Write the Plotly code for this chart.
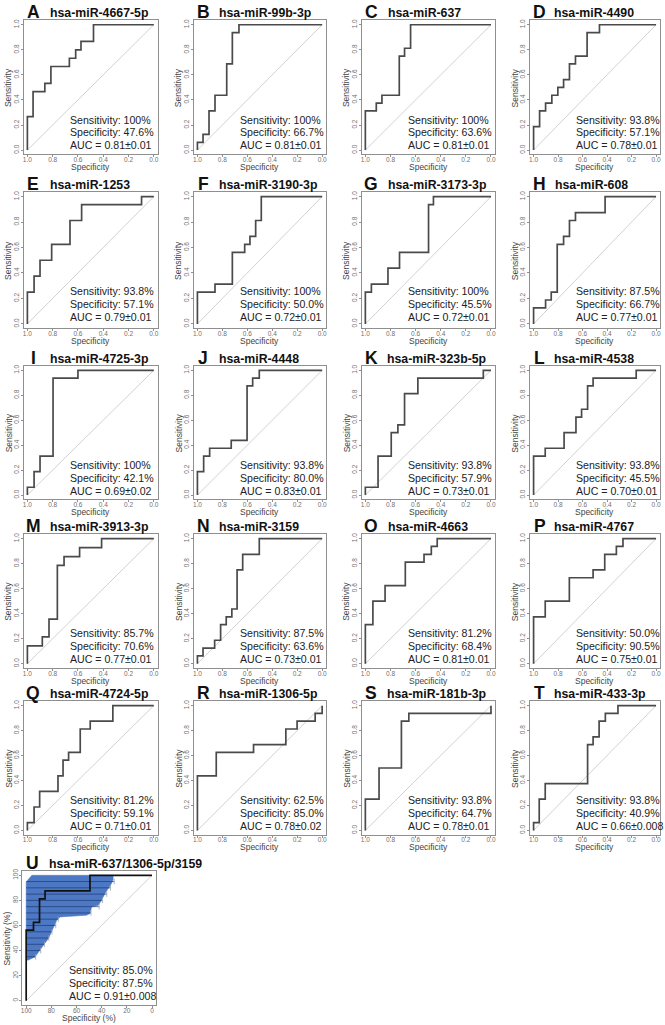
import plotly.graph_objects as go

W, H = 665, 1025

letters = list("ABCDEFGHIJKLMNOPQRSTU")
mirnas = ["hsa-miR-4667-5p", "hsa-miR-99b-3p", "hsa-miR-637", "hsa-miR-4490",
          "hsa-miR-1253", "hsa-miR-3190-3p", "hsa-miR-3173-3p", "hsa-miR-608",
          "hsa-miR-4725-3p", "hsa-miR-4448", "hsa-miR-323b-5p", "hsa-miR-4538",
          "hsa-miR-3913-3p", "hsa-miR-3159", "hsa-miR-4663", "hsa-miR-4767",
          "hsa-miR-4724-5p", "hsa-miR-1306-5p", "hsa-miR-181b-3p", "hsa-miR-433-3p",
          "hsa-miR-637/1306-5p/3159"]
sens_label = ["100%", "100%", "100%", "93.8%", "93.8%", "100%", "100%", "87.5%",
              "100%", "93.8%", "93.8%", "93.8%", "85.7%", "87.5%", "81.2%", "50.0%",
              "81.2%", "62.5%", "93.8%", "93.8%", "85.0%"]
spec_label = ["47.6%", "66.7%", "63.6%", "57.1%", "57.1%", "50.0%", "45.5%", "66.7%",
              "42.1%", "80.0%", "57.9%", "45.5%", "70.6%", "63.6%", "68.4%", "90.5%",
              "59.1%", "85.0%", "64.7%", "40.9%", "87.5%"]
auc_label = ["0.81±0.01", "0.81±0.01", "0.81±0.01", "0.78±0.01", "0.79±0.01", "0.72±0.01",
             "0.72±0.01", "0.77±0.01", "0.69±0.02", "0.83±0.01", "0.73±0.01", "0.70±0.01",
             "0.77±0.01", "0.73±0.01", "0.81±0.01", "0.75±0.01", "0.71±0.01", "0.78±0.02",
             "0.78±0.01", "0.66±0.008", "0.91±0.008"]

# ROC step points (specificity, sensitivity)
spec_A = [1, .955, .862, .814, .668, .618, .576, .477, 0]
sens_A = [0, .267, .467, .533, .667, .733, .8, .867, 1]
spec_B = [1, .955, .907, .859, .765, .72, .667, 0]
sens_B = [0, .0625, .125, .3125, .4375, .6875, .9375, 1]
spec_C = [1, .913, .868, .730, .688, .640, 0]
sens_C = [0, .3125, .375, .4375, .75, .8125, 1]
spec_D = [1, .951, .902, .851, .802, .755, .707, .658, .563, .462, 0]
sens_D = [0, .1875, .3125, .375, .4375, .5, .5625, .6875, .75, .9375, 1]
spec_E = [1, .947, .9, .808, .663, .571, .097, 0]
sens_E = [0, .25, .375, .5, .625, .8125, .9375, 1]
spec_F = [1, .859, .72, .621, .579, .533, .488, 0]
sens_F = [0, .25, .3125, .5625, .625, .6875, .8125, 1]
spec_G = [1, .952, .82, .728, .497, .458, 0]
sens_G = [0, .25, .3125, .4375, .5625, .9375, 1]
spec_H = [1, .902, .856, .807, .755, .707, .658, .416, 0]
sens_H = [0, .125, .1875, .25, .625, .6875, .8125, .875, 1]
spec_I = [1, .947, .9, .797, .6, 0]
sens_I = [0, .0625, .1875, .3125, .9375, 1]
spec_J = [1, .95, .902, .729, .602, .557, .504, 0]
sens_J = [0, .1875, .3125, .375, .4375, .875, .9375, 1]
spec_K = [1, .899, .794, .741, .688, .582, .061, 0]
sens_K = [0, .0625, .3125, .5, .5625, .8125, .9375, 1]
spec_L = [1, .905, .751, .654, .608, .559, .514, .162, 0]
sens_L = [0, .3125, .375, .5, .625, .6875, .875, .9375, 1]
spec_M = [1, .882, .829, .763, .71, .587, .413, 0]
sens_M = [0, .143, .214, .357, .786, .857, .929, 1]
spec_N = [1, .955, .862, .814, .769, .724, .682, .637, .504, 0]
sens_N = [0, .0625, .125, .1875, .3125, .375, .4375, .75, .875, 1]
spec_O = [1, .94, .843, .682, .533, .475, .428, 0]
sens_O = [0, .3125, .5, .625, .8125, .875, .9375, 1]
spec_P = [1, .905, .708, .514, .419, .324, .27, 0]
sens_P = [0, .375, .5, .6875, .75, .875, .9375, 1]
spec_Q = [1, .947, .903, .758, .718, .674, .582, .503, .324, 0]
sens_Q = [0, .0625, .1875, .3125, .4375, .5625, .625, .8125, .875, 1]
spec_R = [1, .849, .55, .291, .201, .056, 0, 0]
sens_R = [0, .4375, .625, .6875, .8125, .875, .9375, 1]
spec_S = [1, .891, .713, .654, 0, 0]
sens_S = [0, .25, .5, .875, .9375, 1]
spec_T = [1, .954, .905, .559, .514, .465, .414, .311, 0]
sens_T = [0, .0625, .25, .375, .6875, .75, .875, .9375, 1]
# combined model (percent)
spec_U = [100, 94.2, 89.4, 85, 49.3, 0]
sens_U = [0, 56.25, 62.5, 81.25, 87.5, 100]
# confidence shape of combined model (percent)
ci_sens = [100, 96.5, 93.4, 89.4, 85.4, 80.1, 76.1, 74.8, 69.5, 68.2, 66.8, 64.2, 54.9, 49.6, 44.3, 40.3, 35, 32.4]
ci_spec_lo = [30.9, 30.9, 32.2, 34.8, 37.4, 40.1, 42.7, 48, 49.3, 52, 73.1, 75.7, 79.7, 82.3, 86.3, 88.9, 92.9, 98.2]
ci_spec_hi_top = [95.5, 100]
ci_sens_hi_top = [100, 94.7]
bar_sens = [95, 90, 85, 80, 75, 70, 65, 60, 55, 50, 45, 40, 35]
bar_spec_lo = [30.0, 33.0, 36.0, 39.5, 42.0, 48.5, 74.5, 76.5, 79.5, 82.0, 85.5, 88.5, 92.5]
bar_spec_hi = [100] * 13

roc_spec = [spec_A, spec_B, spec_C, spec_D, spec_E, spec_F, spec_G, spec_H, spec_I, spec_J,
            spec_K, spec_L, spec_M, spec_N, spec_O, spec_P, spec_Q, spec_R, spec_S, spec_T, spec_U]
roc_sens = [sens_A, sens_B, sens_C, sens_D, sens_E, sens_F, sens_G, sens_H, sens_I, sens_J,
            sens_K, sens_L, sens_M, sens_N, sens_O, sens_P, sens_Q, sens_R, sens_S, sens_T, sens_U]

# ---- layout geometry (pixels) ----
col_x1 = [25.5, 196.3, 365.0, 534.0]
col_x0 = [152.5, 321.6, 491.2, 657.0]
row_y1 = [22.8, 195.0, 369.0, 537.7, 705.0, 875.0]
row_y0 = [148.4, 322.5, 494.0, 663.0, 830.0, 1000.7]
PADX, PADY = 0.03, 0.035
FONT = "Liberation Sans, Arial, sans-serif"
CURVE = "#4a4a4a"
FRAME = "#8f8f8f"

fig = go.Figure()
layout = dict(width=W, height=H, margin=dict(l=0, r=0, t=0, b=0),
              paper_bgcolor="white", plot_bgcolor="white", showlegend=False,
              font=dict(family=FONT))
ann = []

def px(x):
    return x / W

def py(y):
    return 1 - y / H

for i in range(21):
    r, c = divmod(i, 4)
    x1, x0 = col_x1[c], col_x0[c]
    y1, y0 = row_y1[r], row_y0[r]
    if i == 20:
        x1 -= 1.2
        x0 -= 1.8
    w, h = x0 - x1, y0 - y1
    bl, br = x1 - PADX * w, x0 + PADX * w
    bt, bb = y1 - PADY * h, y0 + PADY * h
    scale = 100 if i == 20 else 1
    sfx = "" if i == 0 else str(i + 1)
    xa, ya = "x" + sfx, "y" + sfx
    tv = [v * scale for v in [0, 0.2, 0.4, 0.6, 0.8, 1.0]]
    tt = [f"{v:.0f}" if scale == 100 else f"{v:.1f}" for v in tv]
    axcommon = dict(showgrid=False, zeroline=False, showline=True, linecolor=FRAME,
                    linewidth=0.9, mirror=True, ticks="outside", ticklen=2,
                    tickcolor=FRAME, tickwidth=0.8, tickvals=tv, ticktext=tt,
                    tickfont=dict(size=6.5, color="#707070", family=FONT))
    layout["xaxis" + sfx] = dict(axcommon, domain=[px(bl), px(br)], anchor=ya,
                                 range=[scale * (1 + PADX), -scale * PADX],
                                 ticklabelstandoff=-3)
    layout["yaxis" + sfx] = dict(axcommon, domain=[py(bb), py(bt)], anchor=xa,
                                 range=[-scale * PADY, scale * (1 + PADY)], tickangle=-90,
                                 ticklabelstandoff=-1)

    # diagonal
    fig.add_trace(go.Scatter(x=[scale, 0], y=[0, scale], mode="lines", xaxis=xa, yaxis=ya,
                             line=dict(color="#cccccc", width=0.9), hoverinfo="skip"))
    if i == 20:
        poly_x = [100] + ci_spec_hi_top[::-1] + ci_spec_lo + [100]
        poly_y = [ci_sens[-1]] + ci_sens_hi_top[::-1] + ci_sens + [ci_sens[-1]]
        fig.add_trace(go.Scatter(x=poly_x, y=poly_y, mode="lines", fill="toself",
                                 fillcolor="#4d78c4", line=dict(color="#4d78c4", width=0.5),
                                 xaxis=xa, yaxis=ya, hoverinfo="skip"))
        bx, by = [], []
        for s, lo, hi in zip(bar_sens, bar_spec_lo, bar_spec_hi):
            bx += [hi, lo, None]
            by += [s, s, None]
        fig.add_trace(go.Scatter(x=bx, y=by, mode="lines", xaxis=xa, yaxis=ya,
                                 line=dict(color="#1e3a70", width=0.7), hoverinfo="skip"))
        fig.add_trace(go.Scatter(x=bar_spec_lo, y=bar_sens, mode="markers", xaxis=xa, yaxis=ya,
                                 marker=dict(symbol="line-ns-open", size=4, color="#9aa3b5",
                                             line=dict(color="#9aa3b5", width=0.8)),
                                 hoverinfo="skip"))
    fig.add_trace(go.Scatter(x=roc_spec[i], y=roc_sens[i], mode="lines", xaxis=xa, yaxis=ya,
                             line=dict(color="#111111" if i == 20 else CURVE, width=1.7,
                                       shape="vh"), hoverinfo="skip"))

    # panel letter and title
    ty = y1 - 12.5
    ann.append(dict(text=f"<b>{letters[i]}</b>", x=px(x1 + 6), y=py(ty), xref="paper",
                    yref="paper", xanchor="center", yanchor="middle", showarrow=False,
                    font=dict(size=17.5, color="#111111", family=FONT)))
    if i == 20:
        ann.append(dict(text=f"<b>{mirnas[i]}</b>", x=px(45), y=py(ty + 1), xref="paper",
                        yref="paper", xanchor="left", yanchor="middle", showarrow=False,
                        font=dict(size=12.3, color="#111111", family=FONT)))
    else:
        cx = (bl + br) / 2 + 3 * (len(mirnas[i]) - 12.5) + 1
        ann.append(dict(text=f"<b>{mirnas[i]}</b>", x=px(cx), y=py(ty + 1), xref="paper",
                        yref="paper", xanchor="center", yanchor="middle", showarrow=False,
                        font=dict(size=12.3, color="#111111", family=FONT)))
    # statistics
    lines = [f"Sensitivity: {sens_label[i]}", f"Specificity: {spec_label[i]}",
             f"AUC = {auc_label[i]}"]
    for k, t in enumerate(lines):
        ann.append(dict(text=t, x=px(x1 + 41), y=py(y1 + 95 + 12.8 * k), xref="paper",
                        yref="paper", xanchor="left", yanchor="middle", showarrow=False,
                        font=dict(size=10.6, color="#222222", family=FONT)))
    # axis titles
    xt = "Specificity (%)" if i == 20 else "Specificity"
    yt = "Sensitivity (%)" if i == 20 else "Sensitivity"
    ann.append(dict(text=xt, x=px((x1 + x0) / 2), y=py(bb + 12.5), xref="paper", yref="paper",
                    xanchor="center", yanchor="middle", showarrow=False,
                    font=dict(size=8.5, color="#444444", family=FONT)))
    ann.append(dict(text=yt, x=px(bl - 15), y=py((y1 + y0) / 2), xref="paper", yref="paper",
                    xanchor="center", yanchor="middle", showarrow=False, textangle=-90,
                    font=dict(size=8.5, color="#444444", family=FONT)))

layout["annotations"] = ann
fig.update_layout(**layout)
fig.write_html("out.html", config={"displayModeBar": False},
               post_script="document.body.style.margin='0';document.body.style.overflow='hidden';")
